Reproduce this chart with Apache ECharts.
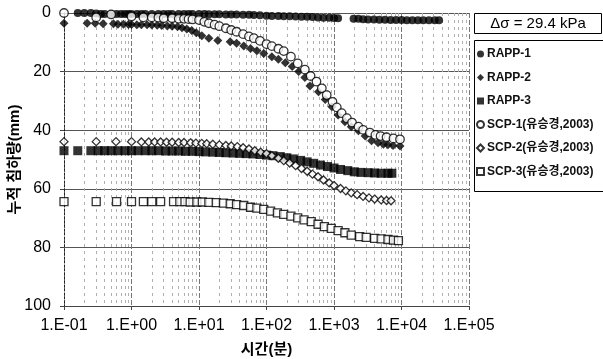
<!DOCTYPE html>
<html>
<head>
<meta charset="utf-8">
<script src="https://cdn.jsdelivr.net/npm/echarts@6/dist/echarts.min.js"></script>
<style>
  html, body { margin: 0; padding: 0; background: #fff; }
  #chart { width: 603px; height: 359px; }
</style>
</head>
<body>
<div id="chart"></div>
<script>
// Cumulative settlement (mm) against elapsed time (min), pairs of [time, settlement]
const rapp1 = [[0.16,0],[0.2,0],[0.25,0],[0.3,0.2],[0.35,0.3],[0.4,0.3],[0.5,0.3],[0.6,0.3],[0.7,0.3],[0.8,0.3],[0.9,0.3],[1,0.3],[1.2,0.3],[1.4,0.3],[1.6,0.3],[2,0.3],[2.5,0.3],[3,0.3],[3.5,0.3],[4,0.3],[5,0.3],[6,0.3],[7,0.3],[8,0.3],[10,0.3],[12,0.3],[14,0.4],[17,0.4],[20,0.4],[25,0.5],[30,0.5],[36,0.5],[45,0.6],[55,0.6],[65,0.7],[80,0.8],[100,0.9],[120,1.0],[150,1.0],[180,1.1],[220,1.1],[270,1.2],[330,1.3],[400,1.3],[480,1.4],[580,1.5],[700,1.6],[850,1.6],[1000,1.7],[1150,1.8],[1950,2.0],[2300,2.0],[2700,2.1],[3200,2.2],[3900,2.2],[4700,2.3],[5700,2.3],[6900,2.4],[8300,2.4],[10000,2.4],[12000,2.5],[14500,2.5],[17500,2.5],[21000,2.5],[25500,2.5],[31000,2.5],[36000,2.5]];
const rapp2 = [[0.1,3.5],[0.22,3.5],[0.29,3.5],[0.38,3.7],[0.54,3.7],[0.63,3.8],[0.76,3.8],[0.9,3.9],[1,3.9],[1.2,4],[1.4,4],[1.7,4],[2,4.1],[2.4,4.2],[2.8,4.3],[3.4,4.4],[4,4.5],[4.8,4.7],[5.6,5.0],[6.6,5.5],[7.8,6],[9.1,6.7],[11,7.8],[14,8.6],[19,9.4],[29,9.8],[36,10.3],[46,11.3],[58,12.1],[72,12.9],[91,13.8],[120,14.9],[150,15.8],[190,17],[240,18.3],[300,20],[370,22],[440,24.9],[590,26.9],[740,29.5],[930,32],[1150,34.8],[1450,37.1],[1800,38.8],[2300,40.2],[2900,42],[3600,43.6],[4500,44.3],[5400,44.8],[6300,45],[7500,45.2],[9500,45.4]];
const rapp3 = [[0.1,47],[0.16,47],[0.25,47],[0.32,47],[0.4,47],[0.5,47],[0.63,47],[0.8,47],[1,47],[1.25,47],[1.6,47],[2,47],[2.5,47],[3.2,47.1],[4,47.1],[5,47.1],[6.3,47.2],[8,47.2],[10,47.3],[12.5,47.4],[16,47.5],[20,47.6],[25,47.7],[32,47.8],[40,47.9],[50,48],[63,48.1],[80,48.3],[100,48.5],[125,48.7],[160,49],[200,49.4],[250,49.8],[320,50.3],[400,50.8],[500,51.3],[630,51.9],[800,52.4],[1000,52.9],[1250,53.4],[1600,53.8],[2000,54.2],[2500,54.4],[3200,54.5],[4000,54.6],[5000,54.7],[6300,54.7],[7200,54.7]];
const scp1 = [[0.1,0],[0.3,1.5],[0.5,0.5],[1,1.2],[1.5,1.5],[2,1.5],[2.5,1.6],[3,1.8],[4,1.8],[5,2],[6,2],[7,2.1],[8,2.2],[10,2.4],[12,3],[14,3.5],[17,4],[20,4.5],[25,5.2],[30,5.8],[36,6.4],[45,7.2],[55,8],[65,8.6],[80,9.5],[100,10.6],[120,11.3],[150,12.2],[180,13],[230,14.9],[290,17.2],[370,19.3],[450,21.5],[550,23.4],[660,25.7],[780,28],[950,30.3],[1100,32.2],[1300,34.2],[1550,35.9],[1850,37.4],[2300,38.8],[2700,39.9],[3400,40.8],[4100,41.6],[4900,42],[6000,42.4],[7600,42.8],[9500,43.1]];
const scp2 = [[0.1,43.9],[0.3,43.9],[0.59,43.9],[1,43.9],[1.4,44],[1.8,44],[2.2,44],[2.7,44],[3.3,44.1],[4,44.1],[5,44.2],[6,44.2],[7.5,44.3],[9,44.4],[11,44.5],[13,44.6],[16,44.8],[20,45],[25,45.2],[30,45.4],[37,45.6],[45,46],[55,46.4],[67,47],[82,47.5],[100,48],[120,48.7],[150,49.6],[180,50.4],[220,51.2],[270,52.1],[330,53.1],[400,54],[480,55],[580,55.9],[700,57],[850,58],[1000,58.9],[1250,59.9],[1500,60.7],[1800,61.4],[2200,62],[2700,62.6],[3300,63.1],[4000,63.5],[5000,63.8],[6000,64],[7000,64.1]];
const scp3 = [[0.1,64.4],[0.3,64.4],[0.6,64.4],[1,64.4],[1.5,64.4],[2,64.4],[2.7,64.4],[4.2,64.4],[5.2,64.4],[6.2,64.4],[7.4,64.5],[9.3,64.5],[11.2,64.5],[14,64.6],[18,64.7],[23,64.9],[29,65.1],[36,65.4],[46,65.7],[58,66.3],[72,66.6],[91,67],[115,67.6],[145,68.2],[180,68.7],[230,69.3],[290,69.9],[360,70.6],[460,71.2],[580,72.1],[720,72.9],[910,73.5],[1150,74.3],[1450,75],[1800,75.8],[2400,76.3],[3000,76.6],[4000,76.9],[5000,77.1],[6300,77.3],[7600,77.5],[9000,77.7]];

const seriesNames = ['RAPP-1', 'RAPP-2', 'RAPP-3', 'SCP-1(유승경,2003)', 'SCP-2(유승경,2003)', 'SCP-3(유승경,2003)'];
const xTickLabels = ['1.E-01', '1.E+00', '1.E+01', '1.E+02', '1.E+03', '1.E+04', '1.E+05'];
const yTickLabels = ['0', '20', '40', '60', '80', '100'];
const loadLabel = 'Δσ = 29.4 kPa';

// intermediate log gridlines (2..9 within every decade)
const minorLines = [];
for (let e = -1; e < 5; e++) {
  for (let m = 2; m <= 9; m++) minorLines.push({ xAxis: m * Math.pow(10, e) });
}

const chart = echarts.init(document.getElementById('chart'));

const latin = "'Liberation Sans', Arial, sans-serif";
const hangul = "'Liberation Sans', 'Noto Sans CJK KR', sans-serif";

function filled(symbol, size) {
  return { symbol, symbolSize: size, itemStyle: { color: '#000', borderColor: '#000', borderWidth: 0 } };
}
function hollow(symbol, size) {
  return { symbol, symbolSize: size, itemStyle: { color: '#fff', borderColor: '#000', borderWidth: 1.3 } };
}
const styles = [filled('circle', 8), filled('diamond', 9), filled('rect', 9), hollow('circle', 8.5), hollow('diamond', 8), hollow('rect', 8)];
const datasets = [rapp1, rapp2, rapp3, scp1, scp2, scp3];

const series = datasets.map((d, i) => Object.assign({
  name: seriesNames[i],
  type: 'scatter',
  data: d,
  z: 3 + i,
  silent: true
}, styles[i]));

series[0].markLine = {
  silent: true,
  symbol: ['none', 'none'],
  label: { show: false },
  lineStyle: { color: '#b0b0b0', width: 1, type: [3, 4] },
  data: minorLines,
  z: 1
};

chart.setOption({
  animation: false,
  backgroundColor: '#fff',
  grid: { left: 64, top: 13, width: 405, height: 293, outerBoundsMode: 'none', containLabel: false },
  legend: {
    orient: 'vertical',
    left: 476,
    top: 47,
    padding: 0,
    itemGap: 9.5,
    itemWidth: 7,
    itemHeight: 7,
    data: seriesNames,
    textStyle: { fontFamily: hangul, fontSize: 12, fontWeight: 'bold', color: '#111', lineHeight: 14, padding: [0, 0, 0, -2] }
  },
  graphic: [
    { type: 'rect', shape: { x: 474.5, y: 13.5, width: 127, height: 20 }, style: { fill: '#fff', stroke: '#000', lineWidth: 1 } },
    { type: 'text', x: 538, y: 23.5, style: { text: loadLabel, font: "15px " + latin, fill: '#000', textAlign: 'center', textVerticalAlign: 'middle' } },
    { type: 'rect', shape: { x: 474.5, y: 40.5, width: 140, height: 151 }, style: { fill: 'none', stroke: '#000', lineWidth: 1 } }
  ],
  xAxis: {
    type: 'log',
    logBase: 10,
    min: 0.1,
    max: 100000,
    name: '시간(분)',
    nameLocation: 'middle',
    nameGap: 36,
    nameMoveOverlap: false,
    nameTextStyle: { fontFamily: hangul, fontSize: 15, fontWeight: 'bold', color: '#000' },
    axisLine: { show: true, onZero: false, lineStyle: { color: '#444', width: 1 } },
    axisTick: { show: true, inside: false, length: 4, lineStyle: { color: '#444' } },
    axisLabel: {
      margin: 12,
      fontFamily: latin,
      fontSize: 16,
      color: '#000',
      formatter: v => xTickLabels[Math.round(Math.log10(v)) + 1]
    },
    splitLine: { show: true, lineStyle: { color: '#777', width: 1, type: [5, 2] } }
  },
  yAxis: {
    type: 'value',
    inverse: true,
    min: 0,
    max: 100,
    interval: 20,
    name: '누적 침하량(mm)',
    nameLocation: 'middle',
    nameGap: 42,
    nameMoveOverlap: false,
    nameRotate: 90,
    nameTextStyle: { fontFamily: hangul, fontSize: 15, fontWeight: 'bold', color: '#000' },
    axisLine: { show: true, lineStyle: { color: '#222', width: 1, type: [2, 2] } },
    axisTick: { show: true, length: 4, lineStyle: { color: '#444' } },
    axisLabel: {
      margin: 13,
      fontFamily: latin,
      fontSize: 16,
      color: '#000',
      formatter: v => yTickLabels[Math.round(v / 20)]
    },
    splitLine: { show: true, lineStyle: { color: '#555', width: 1 } }
  },
  series
});
</script>
</body>
</html>
